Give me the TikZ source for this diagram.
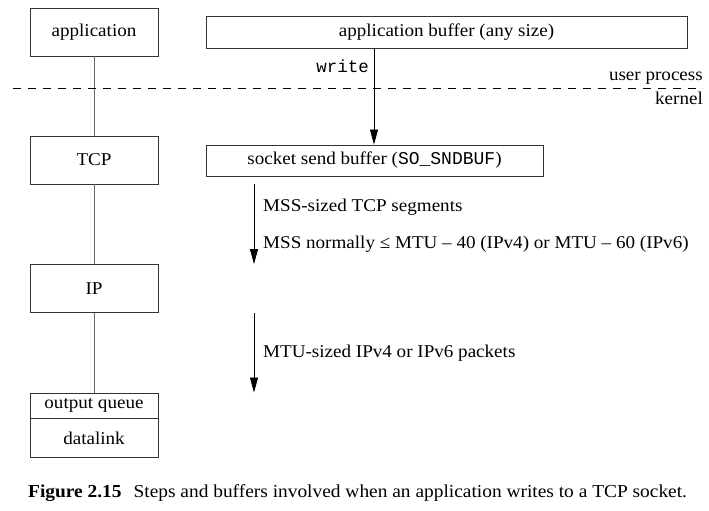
\documentclass[tikz,border=0pt]{standalone}
\usepackage{fontspec}
\setmainfont{Liberation Serif}[FakeStretch=1.06]
\setmonofont{Liberation Mono}
\usepackage{xcolor}
\usepackage{tikz}
\usetikzlibrary{positioning,calc,arrows.meta}

\definecolor{boxline}{HTML}{333333}
\definecolor{linkline}{HTML}{6A6A6A}

\tikzset{
  layer/.style={draw=boxline, line width=0.9pt, minimum width=128, minimum height=48, inner sep=0pt},
  bufbox/.style={draw=boxline, line width=0.9pt, minimum height=32, inner sep=0pt},
  flow/.style={line width=0.8pt, -{Triangle[length=15pt,width=8pt]}},
  note/.style={anchor=base west, inner sep=0pt},
}

\begin{document}
\begin{tikzpicture}[x=1pt, y=-1pt, font=\fontsize{18}{21}\selectfont]
  \useasboundingbox (0,0) rectangle (709,511);

  % protocol layers
  \foreach \name/\txt/\y in {app/application/32, tcp/TCP/160, ip/IP/288.5} {
    \node[layer] (\name) at (94, \y) {\txt};
  }
  \node[layer, minimum height=25] (oq) at (94, 405.5) {output queue};
  \node[layer, minimum height=39, anchor=north] (dl) at (oq.south) {datalink};

  \draw[linkline, line width=1pt] (app) -- (tcp);
  \draw[linkline, line width=1pt] (tcp) -- (ip);
  \draw[linkline, line width=1pt] (ip) -- (oq);

  % buffers
  \node[bufbox, minimum width=481] (appbuf) at (446.5, 32) {application buffer (any size)};
  \node[bufbox, minimum width=337, minimum height=31] (sndbuf) at (374.5, 160.5)
    {socket send buffer (\texttt{SO\_SNDBUF})};

  % user process / kernel boundary
  \coordinate (bl) at (13, 88);
  \coordinate (br) at (703, 88);
  \draw[line width=0.8pt, dash pattern=on 8pt off 7pt] (bl) -- (br);
  \node[anchor=base east, inner sep=0pt] (user) at (703, 80) {user process};
  \node[anchor=base east, inner sep=0pt] (kern) at (703, 104) {kernel};

  % data flow
  \coordinate (wx) at (374, 0);
  \coordinate (ax) at (254, 0);
  \draw[flow] (appbuf.south -| wx) -- (sndbuf.north -| wx);
  \node[anchor=base east, inner sep=0pt, font=\fontsize{17.5}{20}\ttfamily] (wr) at (369, 73) {write};
  \draw[flow] (tcp.south -| ax) -- (ip.north -| ax);
  \draw[flow] (ip.south -| ax) -- (oq.north -| ax);

  \node[note] (seg) at (263, 211) {MSS-sized TCP segments};
  \node[note] (mss) at (263, 248) {MSS normally ≤ MTU – 40 (IPv4) or MTU – 60 (IPv6)};
  \node[note] (pkt) at (263, 357) {MTU-sized IPv4 or IPv6 packets};

  % caption
  \node[note, font=\fontsize{18.3}{21}\selectfont] (cap) at (28, 497)
    {\textbf{Figure 2.15}\hspace{12pt}Steps and buffers involved when an application writes to a TCP socket.};
\end{tikzpicture}
\end{document}
